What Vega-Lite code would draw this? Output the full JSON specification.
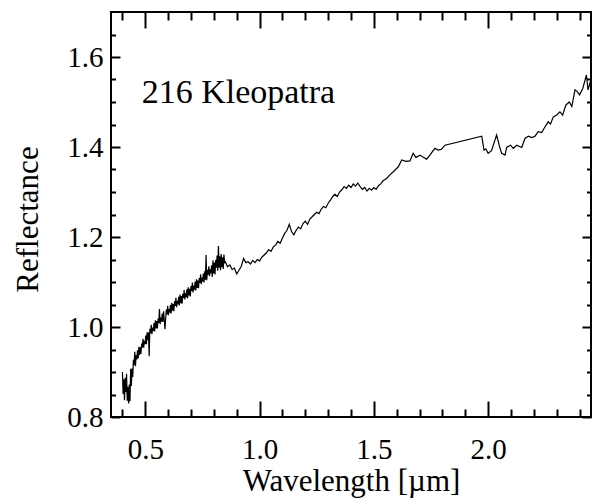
{
  "$schema": "https://vega.github.io/schema/vega-lite/v6.json",
  "width": 480,
  "height": 405,
  "autosize": "none",
  "padding": {"left": 111, "top": 12, "right": 7, "bottom": 87},
  "background": "white",
  "config": {
    "view": {"stroke": "black", "strokeWidth": 2},
    "font": "Liberation Serif",
    "axis": {"domain": false, "grid": false, "tickColor": "black", "tickWidth": 2, "labelColor": "black", "titleColor": "black", "labelFont": "Liberation Serif", "titleFont": "Liberation Serif", "titleFontWeight": "normal"}
  },
  "data": {"values": [
    {"s":"vis","w":0.400,"r":0.900},{"s":"vis","w":0.403,"r":0.851},{"s":"vis","w":0.406,"r":0.884},{"s":"vis","w":0.409,"r":0.837},{"s":"vis","w":0.412,"r":0.887},{"s":"vis","w":0.415,"r":0.855},{"s":"vis","w":0.418,"r":0.896},{"s":"vis","w":0.421,"r":0.836},{"s":"vis","w":0.424,"r":0.867},{"s":"vis","w":0.427,"r":0.830},{"s":"vis","w":0.430,"r":0.872},{"s":"vis","w":0.433,"r":0.835},{"s":"vis","w":0.436,"r":0.907},{"s":"vis","w":0.439,"r":0.869},{"s":"vis","w":0.442,"r":0.908},{"s":"vis","w":0.445,"r":0.889},{"s":"vis","w":0.448,"r":0.927},{"s":"vis","w":0.451,"r":0.915},{"s":"vis","w":0.454,"r":0.945},{"s":"vis","w":0.457,"r":0.913},{"s":"vis","w":0.460,"r":0.937},{"s":"vis","w":0.463,"r":0.928},{"s":"vis","w":0.466,"r":0.948},{"s":"vis","w":0.469,"r":0.930},{"s":"vis","w":0.472,"r":0.956},{"s":"vis","w":0.475,"r":0.938},{"s":"vis","w":0.478,"r":0.955},{"s":"vis","w":0.481,"r":0.940},{"s":"vis","w":0.484,"r":0.963},{"s":"vis","w":0.487,"r":0.954},{"s":"vis","w":0.490,"r":0.974},{"s":"vis","w":0.493,"r":0.954},{"s":"vis","w":0.496,"r":0.969},{"s":"vis","w":0.499,"r":0.962},{"s":"vis","w":0.502,"r":0.981},{"s":"vis","w":0.505,"r":0.962},{"s":"vis","w":0.508,"r":0.988},{"s":"vis","w":0.511,"r":0.971},{"s":"vis","w":0.514,"r":0.988},{"s":"vis","w":0.517,"r":0.935},{"s":"vis","w":0.520,"r":0.996},{"s":"vis","w":0.523,"r":0.986},{"s":"vis","w":0.526,"r":1.005},{"s":"vis","w":0.529,"r":0.984},{"s":"vis","w":0.532,"r":0.999},{"s":"vis","w":0.535,"r":0.991},{"s":"vis","w":0.538,"r":1.009},{"s":"vis","w":0.541,"r":0.990},{"s":"vis","w":0.544,"r":1.015},{"s":"vis","w":0.547,"r":0.997},{"s":"vis","w":0.550,"r":1.013},{"s":"vis","w":0.553,"r":0.997},{"s":"vis","w":0.556,"r":1.019},{"s":"vis","w":0.559,"r":1.009},{"s":"vis","w":0.562,"r":1.040},{"s":"vis","w":0.565,"r":1.006},{"s":"vis","w":0.568,"r":1.021},{"s":"vis","w":0.571,"r":1.012},{"s":"vis","w":0.574,"r":1.030},{"s":"vis","w":0.577,"r":1.011},{"s":"vis","w":0.580,"r":1.035},{"s":"vis","w":0.583,"r":1.017},{"s":"vis","w":0.586,"r":0.995},{"s":"vis","w":0.589,"r":1.016},{"s":"vis","w":0.592,"r":1.039},{"s":"vis","w":0.595,"r":1.028},{"s":"vis","w":0.598,"r":1.047},{"s":"vis","w":0.601,"r":1.026},{"s":"vis","w":0.604,"r":1.040},{"s":"vis","w":0.607,"r":1.032},{"s":"vis","w":0.610,"r":1.049},{"s":"vis","w":0.613,"r":1.030},{"s":"vis","w":0.616,"r":1.054},{"s":"vis","w":0.619,"r":1.036},{"s":"vis","w":0.622,"r":1.051},{"s":"vis","w":0.625,"r":1.035},{"s":"vis","w":0.628,"r":1.057},{"s":"vis","w":0.631,"r":1.047},{"s":"vis","w":0.634,"r":1.065},{"s":"vis","w":0.637,"r":1.044},{"s":"vis","w":0.640,"r":1.058},{"s":"vis","w":0.643,"r":1.050},{"s":"vis","w":0.646,"r":1.067},{"s":"vis","w":0.649,"r":1.048},{"s":"vis","w":0.652,"r":1.072},{"s":"vis","w":0.655,"r":1.053},{"s":"vis","w":0.658,"r":1.069},{"s":"vis","w":0.661,"r":1.052},{"s":"vis","w":0.664,"r":1.074},{"s":"vis","w":0.667,"r":1.064},{"s":"vis","w":0.670,"r":1.082},{"s":"vis","w":0.673,"r":1.061},{"s":"vis","w":0.676,"r":1.075},{"s":"vis","w":0.679,"r":1.066},{"s":"vis","w":0.682,"r":1.084},{"s":"vis","w":0.685,"r":1.064},{"s":"vis","w":0.688,"r":1.088},{"s":"vis","w":0.691,"r":1.070},{"s":"vis","w":0.694,"r":1.085},{"s":"vis","w":0.697,"r":1.068},{"s":"vis","w":0.700,"r":1.091},{"s":"vis","w":0.703,"r":1.080},{"s":"vis","w":0.706,"r":1.099},{"s":"vis","w":0.709,"r":1.077},{"s":"vis","w":0.712,"r":1.092},{"s":"vis","w":0.715,"r":1.083},{"s":"vis","w":0.718,"r":1.101},{"s":"vis","w":0.721,"r":1.081},{"s":"vis","w":0.724,"r":1.106},{"s":"vis","w":0.727,"r":1.087},{"s":"vis","w":0.730,"r":1.103},{"s":"vis","w":0.733,"r":1.086},{"s":"vis","w":0.736,"r":1.109},{"s":"vis","w":0.739,"r":1.098},{"s":"vis","w":0.742,"r":1.117},{"s":"vis","w":0.745,"r":1.095},{"s":"vis","w":0.748,"r":1.110},{"s":"vis","w":0.751,"r":1.101},{"s":"vis","w":0.754,"r":1.119},{"s":"vis","w":0.757,"r":1.099},{"s":"vis","w":0.760,"r":1.124},{"s":"vis","w":0.763,"r":1.105},{"s":"vis","w":0.766,"r":1.160},{"s":"vis","w":0.769,"r":1.104},{"s":"vis","w":0.772,"r":1.127},{"s":"vis","w":0.775,"r":1.116},{"s":"vis","w":0.778,"r":1.135},{"s":"vis","w":0.781,"r":1.113},{"s":"vis","w":0.784,"r":1.128},{"s":"vis","w":0.787,"r":1.119},{"s":"vis","w":0.790,"r":1.137},{"s":"vis","w":0.793,"r":1.111},{"s":"vis","w":0.796,"r":1.148},{"s":"vis","w":0.799,"r":1.119},{"s":"vis","w":0.802,"r":1.143},{"s":"vis","w":0.805,"r":1.117},{"s":"vis","w":0.808,"r":1.149},{"s":"vis","w":0.811,"r":1.132},{"s":"vis","w":0.814,"r":1.159},{"s":"vis","w":0.817,"r":1.125},{"s":"vis","w":0.820,"r":1.180},{"s":"vis","w":0.823,"r":1.132},{"s":"vis","w":0.826,"r":1.157},{"s":"vis","w":0.829,"r":1.126},{"s":"vis","w":0.832,"r":1.162},{"s":"vis","w":0.835,"r":1.133},{"s":"vis","w":0.838,"r":1.155},{"s":"vis","w":0.841,"r":1.129},{"s":"vis","w":0.844,"r":1.161},{"s":"vis","w":0.847,"r":1.144},
    {"s":"nir","w":0.82,"r":1.150},{"s":"nir","w":0.83,"r":1.146},{"s":"nir","w":0.84,"r":1.140},{"s":"nir","w":0.85,"r":1.145},{"s":"nir","w":0.86,"r":1.134},{"s":"nir","w":0.87,"r":1.138},{"s":"nir","w":0.88,"r":1.128},{"s":"nir","w":0.89,"r":1.131},{"s":"nir","w":0.90,"r":1.118},{"s":"nir","w":0.91,"r":1.126},{"s":"nir","w":0.92,"r":1.135},{"s":"nir","w":0.93,"r":1.152},{"s":"nir","w":0.94,"r":1.143},{"s":"nir","w":0.95,"r":1.145},{"s":"nir","w":0.96,"r":1.140},{"s":"nir","w":0.97,"r":1.148},{"s":"nir","w":0.98,"r":1.143},{"s":"nir","w":0.99,"r":1.150},{"s":"nir","w":1.00,"r":1.147},{"s":"nir","w":1.01,"r":1.155},{"s":"nir","w":1.02,"r":1.160},{"s":"nir","w":1.03,"r":1.165},{"s":"nir","w":1.04,"r":1.172},{"s":"nir","w":1.05,"r":1.168},{"s":"nir","w":1.06,"r":1.178},{"s":"nir","w":1.07,"r":1.182},{"s":"nir","w":1.08,"r":1.190},{"s":"nir","w":1.09,"r":1.186},{"s":"nir","w":1.10,"r":1.198},{"s":"nir","w":1.11,"r":1.208},{"s":"nir","w":1.12,"r":1.215},{"s":"nir","w":1.13,"r":1.228},{"s":"nir","w":1.14,"r":1.212},{"s":"nir","w":1.15,"r":1.205},{"s":"nir","w":1.16,"r":1.215},{"s":"nir","w":1.17,"r":1.222},{"s":"nir","w":1.18,"r":1.218},{"s":"nir","w":1.19,"r":1.230},{"s":"nir","w":1.20,"r":1.235},{"s":"nir","w":1.21,"r":1.228},{"s":"nir","w":1.22,"r":1.240},{"s":"nir","w":1.23,"r":1.245},{"s":"nir","w":1.24,"r":1.250},{"s":"nir","w":1.25,"r":1.255},{"s":"nir","w":1.26,"r":1.252},{"s":"nir","w":1.27,"r":1.262},{"s":"nir","w":1.28,"r":1.268},{"s":"nir","w":1.29,"r":1.265},{"s":"nir","w":1.30,"r":1.275},{"s":"nir","w":1.31,"r":1.282},{"s":"nir","w":1.32,"r":1.290},{"s":"nir","w":1.33,"r":1.295},{"s":"nir","w":1.34,"r":1.290},{"s":"nir","w":1.35,"r":1.300},{"s":"nir","w":1.36,"r":1.305},{"s":"nir","w":1.37,"r":1.312},{"s":"nir","w":1.38,"r":1.308},{"s":"nir","w":1.39,"r":1.315},{"s":"nir","w":1.40,"r":1.310},{"s":"nir","w":1.41,"r":1.318},{"s":"nir","w":1.42,"r":1.313},{"s":"nir","w":1.43,"r":1.320},{"s":"nir","w":1.44,"r":1.312},{"s":"nir","w":1.45,"r":1.306},{"s":"nir","w":1.46,"r":1.310},{"s":"nir","w":1.47,"r":1.302},{"s":"nir","w":1.48,"r":1.308},{"s":"nir","w":1.49,"r":1.304},{"s":"nir","w":1.50,"r":1.310},{"s":"nir","w":1.51,"r":1.306},{"s":"nir","w":1.52,"r":1.314},{"s":"nir","w":1.53,"r":1.318},{"s":"nir","w":1.54,"r":1.325},{"s":"nir","w":1.556,"r":1.330},{"s":"nir","w":1.57,"r":1.338},{"s":"nir","w":1.585,"r":1.345},{"s":"nir","w":1.607,"r":1.356},{"s":"nir","w":1.622,"r":1.371},{"s":"nir","w":1.64,"r":1.368},{"s":"nir","w":1.658,"r":1.369},{"s":"nir","w":1.672,"r":1.386},{"s":"nir","w":1.684,"r":1.377},{"s":"nir","w":1.702,"r":1.382},{"s":"nir","w":1.716,"r":1.377},{"s":"nir","w":1.731,"r":1.373},{"s":"nir","w":1.745,"r":1.382},{"s":"nir","w":1.767,"r":1.397},{"s":"nir","w":1.782,"r":1.393},{"s":"nir","w":1.796,"r":1.395},{"s":"nir","w":1.811,"r":1.404},{"s":"nir","w":1.972,"r":1.424},{"s":"nir","w":1.982,"r":1.393},{"s":"nir","w":1.99,"r":1.396},{"s":"nir","w":2.0,"r":1.386},{"s":"nir","w":2.015,"r":1.392},{"s":"nir","w":2.037,"r":1.427},{"s":"nir","w":2.052,"r":1.397},{"s":"nir","w":2.059,"r":1.386},{"s":"nir","w":2.074,"r":1.382},{"s":"nir","w":2.081,"r":1.399},{"s":"nir","w":2.098,"r":1.404},{"s":"nir","w":2.11,"r":1.397},{"s":"nir","w":2.125,"r":1.404},{"s":"nir","w":2.147,"r":1.399},{"s":"nir","w":2.161,"r":1.419},{"s":"nir","w":2.176,"r":1.424},{"s":"nir","w":2.19,"r":1.421},{"s":"nir","w":2.205,"r":1.424},{"s":"nir","w":2.219,"r":1.434},{"s":"nir","w":2.234,"r":1.432},{"s":"nir","w":2.249,"r":1.445},{"s":"nir","w":2.263,"r":1.456},{"s":"nir","w":2.273,"r":1.451},{"s":"nir","w":2.285,"r":1.467},{"s":"nir","w":2.3,"r":1.471},{"s":"nir","w":2.314,"r":1.478},{"s":"nir","w":2.326,"r":1.471},{"s":"nir","w":2.34,"r":1.493},{"s":"nir","w":2.355,"r":1.5},{"s":"nir","w":2.366,"r":1.49},{"s":"nir","w":2.38,"r":1.527},{"s":"nir","w":2.39,"r":1.523},{"s":"nir","w":2.40,"r":1.516},{"s":"nir","w":2.414,"r":1.53},{"s":"nir","w":2.43,"r":1.56},{"s":"nir","w":2.437,"r":1.527},{"s":"nir","w":2.447,"r":1.545},{"s":"nir","w":2.45,"r":1.534}
  ]},
  "layer": [
    {
      "mark": {"type": "line", "color": "black", "strokeWidth": 1.2},
      "encoding": {
        "x": {"field": "w", "type": "quantitative", "scale": {"domain": [0.35, 2.45], "nice": false, "zero": false},
          "axis": {"orient": "bottom", "ticks": false, "values": [0.5, 1.0, 1.5, 2.0], "format": ".1f", "labelFontSize": 29, "labelPadding": 41, "labelBaseline": "alphabetic", "labelFlush": false, "title": "Wavelength [µm]", "titleFontSize": 31, "titleBaseline": "alphabetic", "titleY": 73, "titleX": 240}},
        "y": {"field": "r", "type": "quantitative", "scale": {"domain": [0.8, 1.7], "nice": false, "zero": false},
          "axis": {"orient": "left", "ticks": false, "values": [0.8, 1.0, 1.2, 1.4, 1.6], "format": ".1f", "labelFontSize": 29, "labelPadding": 8, "labelBaseline": "middle", "labelFlush": false, "title": "Reflectance", "titleFontSize": 31, "titleAngle": -90, "titleBaseline": "alphabetic", "titleAlign": "center", "titleX": -74, "titleY": 207}},
        "detail": {"field": "s"}
      }
    },
    {
      "transform": [{"filter": "datum.w > 2.4"}],
      "mark": {"type": "line", "opacity": 0},
      "encoding": {
        "x": {"field": "w", "type": "quantitative", "scale": {"domain": [0.35, 2.45], "nice": false, "zero": false},
          "axis": {"orient": "bottom", "labels": false, "title": null, "values": [0.5, 1.0, 1.5, 2.0], "tickSize": -16}},
        "y": {"field": "r", "type": "quantitative", "scale": {"domain": [0.8, 1.7], "nice": false, "zero": false},
          "axis": {"orient": "left", "labels": false, "title": null, "values": [0.8, 1.0, 1.2, 1.4, 1.6], "tickSize": -9}}
      }
    },
    {
      "transform": [{"filter": "datum.w > 2.4"}],
      "mark": {"type": "line", "opacity": 0},
      "encoding": {
        "x": {"field": "w", "type": "quantitative", "scale": {"domain": [0.35, 2.45], "nice": false, "zero": false},
          "axis": {"orient": "bottom", "labels": false, "title": null, "values": [0.4, 0.6, 0.7, 0.8, 0.9, 1.1, 1.2, 1.3, 1.4, 1.6, 1.7, 1.8, 1.9, 2.1, 2.2, 2.3, 2.4], "tickSize": -8}},
        "y": {"field": "r", "type": "quantitative", "scale": {"domain": [0.8, 1.7], "nice": false, "zero": false},
          "axis": {"orient": "left", "labels": false, "title": null, "values": [0.85, 0.9, 0.95, 1.05, 1.1, 1.15, 1.25, 1.3, 1.35, 1.45, 1.5, 1.55, 1.65], "tickSize": -4.5}}
      }
    },
    {
      "transform": [{"filter": "datum.w > 2.4"}],
      "mark": {"type": "line", "opacity": 0},
      "encoding": {
        "x": {"field": "w", "type": "quantitative", "scale": {"domain": [0.35, 2.45], "nice": false, "zero": false},
          "axis": {"orient": "top", "labels": false, "title": null, "values": [0.5, 1.0, 1.5, 2.0], "tickSize": -16}},
        "y": {"field": "r", "type": "quantitative", "scale": {"domain": [0.8, 1.7], "nice": false, "zero": false},
          "axis": {"orient": "right", "labels": false, "title": null, "values": [0.8, 1.0, 1.2, 1.4, 1.6], "tickSize": -9}}
      }
    },
    {
      "transform": [{"filter": "datum.w > 2.4"}],
      "mark": {"type": "line", "opacity": 0},
      "encoding": {
        "x": {"field": "w", "type": "quantitative", "scale": {"domain": [0.35, 2.45], "nice": false, "zero": false},
          "axis": {"orient": "top", "labels": false, "title": null, "values": [0.4, 0.6, 0.7, 0.8, 0.9, 1.1, 1.2, 1.3, 1.4, 1.6, 1.7, 1.8, 1.9, 2.1, 2.2, 2.3, 2.4], "tickSize": -8}},
        "y": {"field": "r", "type": "quantitative", "scale": {"domain": [0.8, 1.7], "nice": false, "zero": false},
          "axis": {"orient": "right", "labels": false, "title": null, "values": [0.85, 0.9, 0.95, 1.05, 1.1, 1.15, 1.25, 1.3, 1.35, 1.45, 1.5, 1.55, 1.65], "tickSize": -4.5}}
      }
    },
    {
      "data": {"values": [{"label": "216 Kleopatra", "w": 0.484, "r": 1.497}]},
      "mark": {"type": "text", "align": "left", "baseline": "alphabetic", "fontSize": 34, "font": "Liberation Serif", "color": "black"},
      "encoding": {
        "x": {"field": "w", "type": "quantitative", "scale": {"domain": [0.35, 2.45], "nice": false, "zero": false}, "axis": null},
        "y": {"field": "r", "type": "quantitative", "scale": {"domain": [0.8, 1.7], "nice": false, "zero": false}, "axis": null},
        "text": {"field": "label"}
      }
    }
  ],
  "resolve": {"axis": {"x": "independent", "y": "independent"}}
}
